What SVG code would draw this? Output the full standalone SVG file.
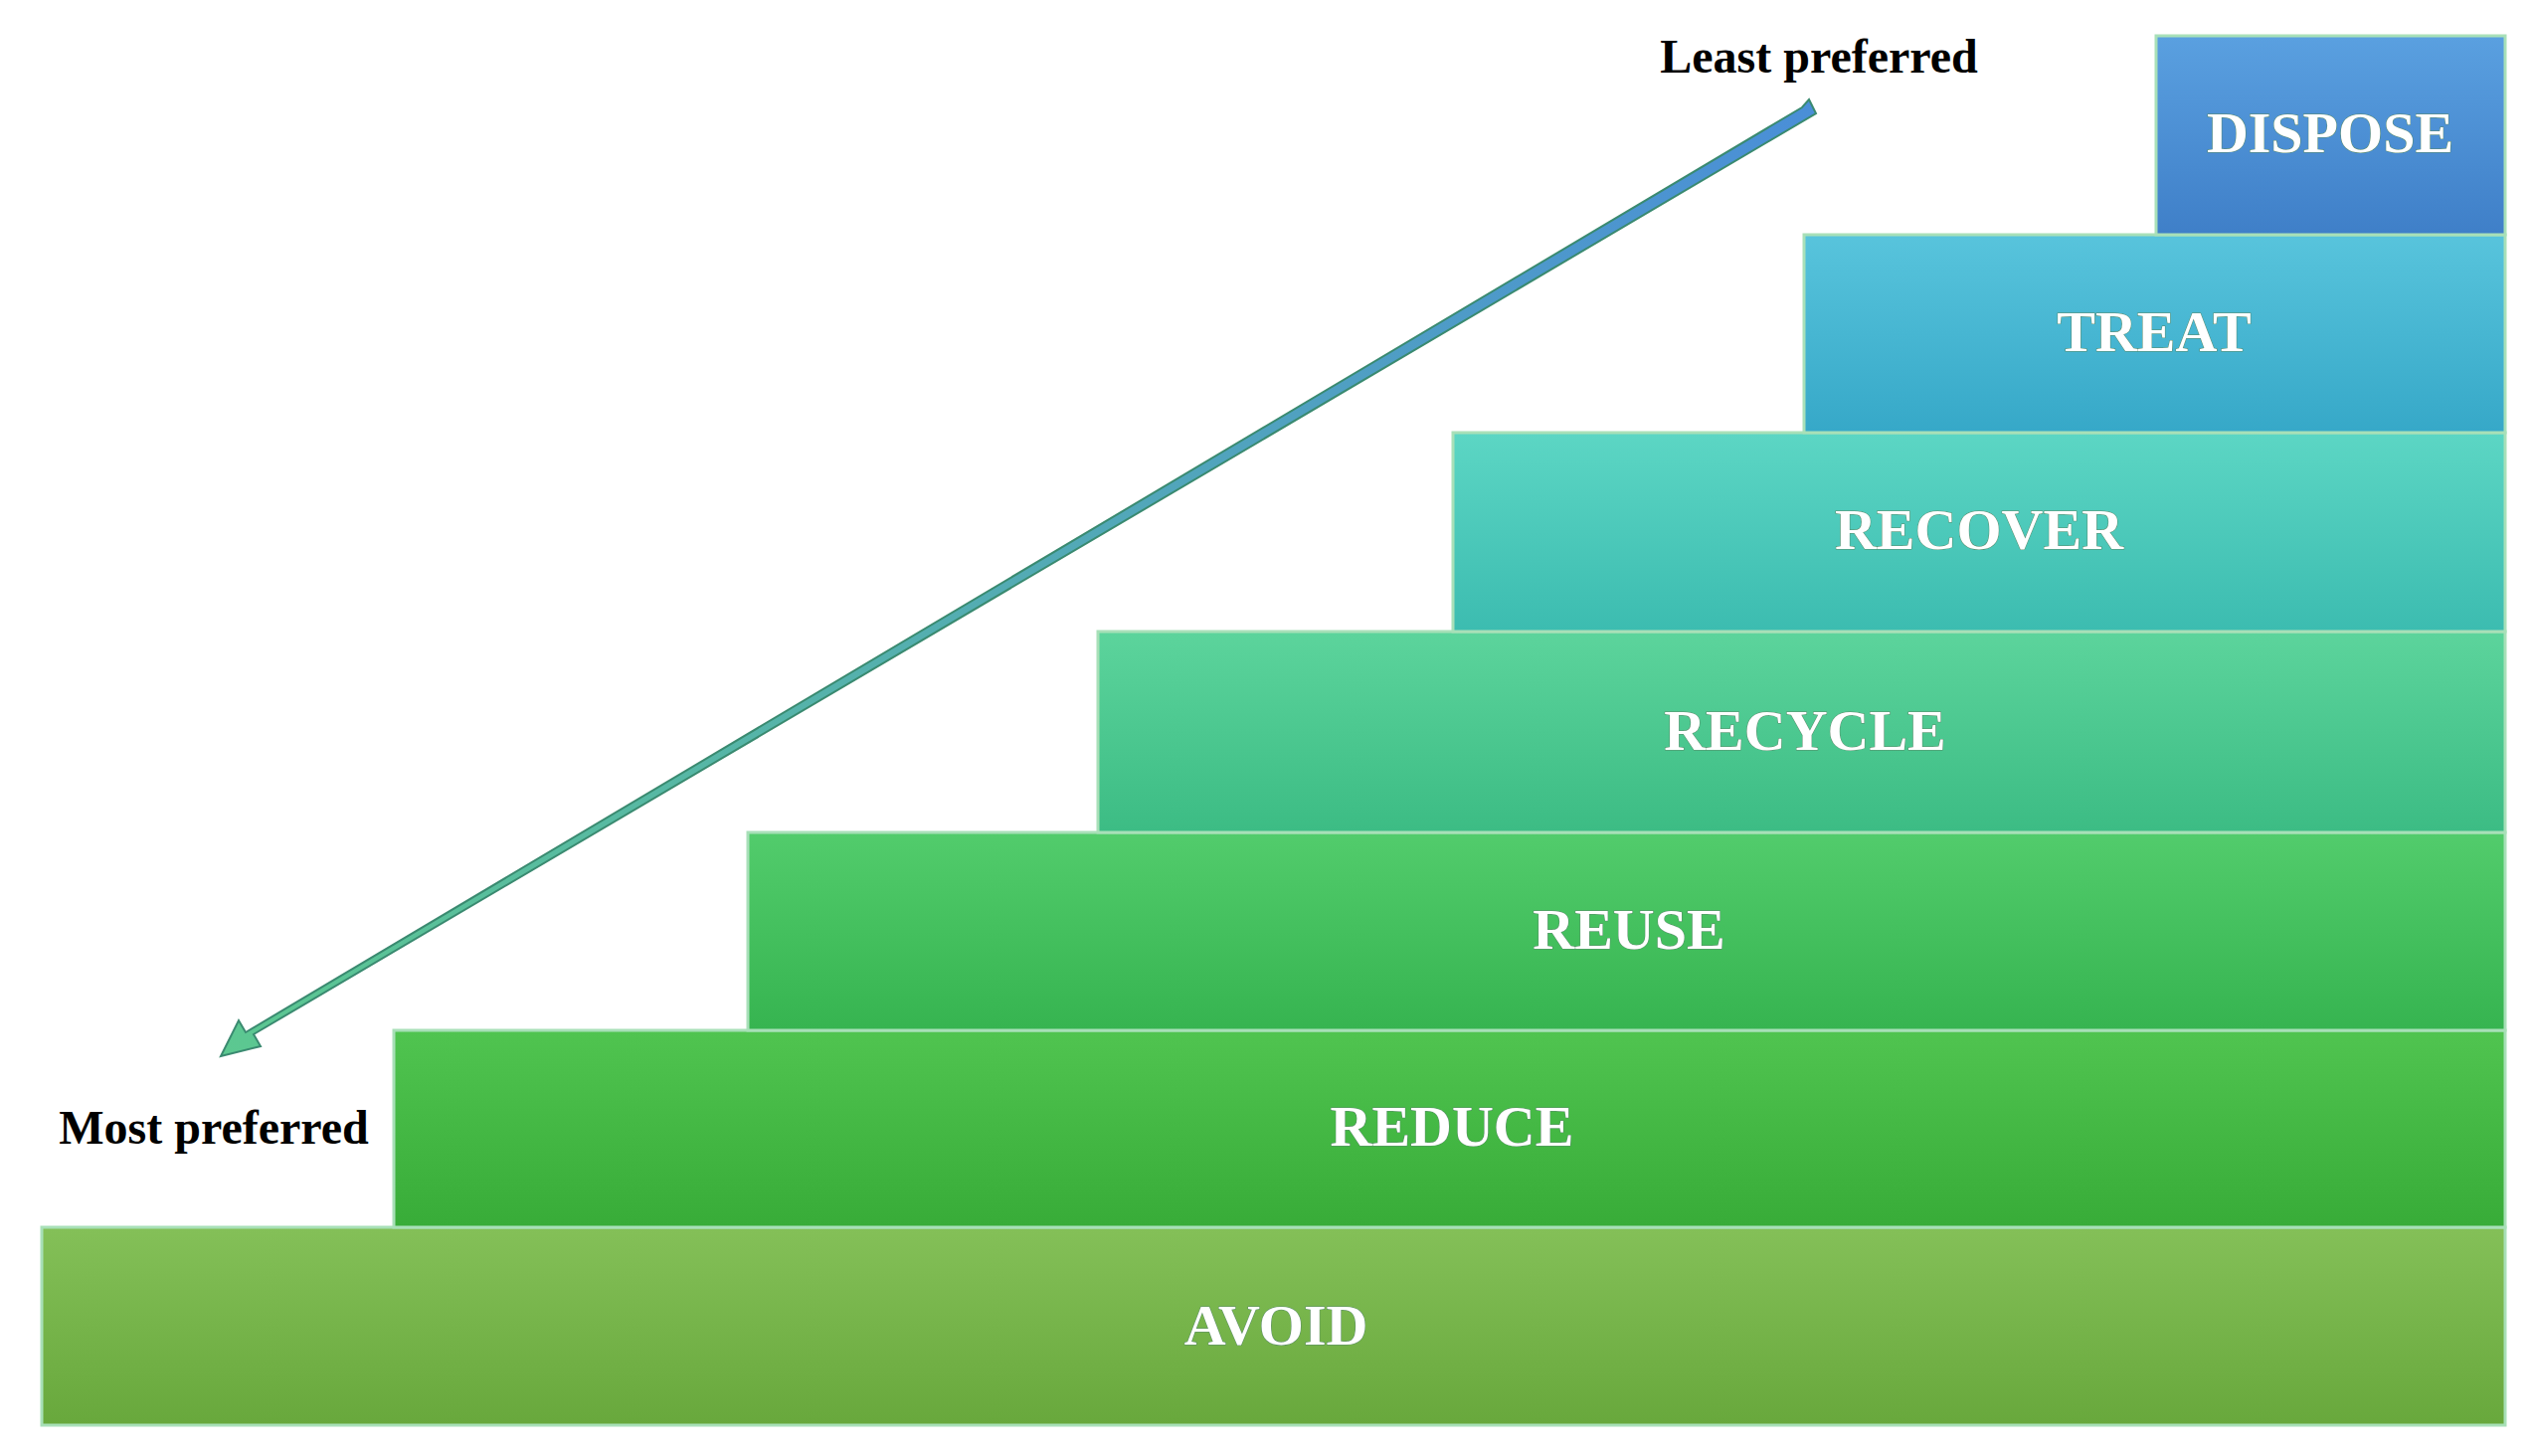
<svg xmlns="http://www.w3.org/2000/svg" width="2547" height="1464" viewBox="0 0 2547 1464">
<style>
.lbl{font-family:"Liberation Serif",serif;font-weight:bold;font-size:58px;fill:#fff;text-anchor:middle;stroke:#5a8a6a;stroke-width:1;paint-order:stroke}
.cap{font-family:"Liberation Serif",serif;font-weight:bold;font-size:48px;fill:#000;text-anchor:middle}
.step{stroke:#a8e0b8;stroke-width:3}
</style>
<defs>
<linearGradient id="gD" x1="0" y1="0" x2="0" y2="1"><stop offset="0" stop-color="#5aa0e0"/><stop offset="1" stop-color="#3f7fc8"/></linearGradient>
<linearGradient id="gT" x1="0" y1="0" x2="0" y2="1"><stop offset="0" stop-color="#58c4dc"/><stop offset="1" stop-color="#36a8c8"/></linearGradient>
<linearGradient id="gRc" x1="0" y1="0" x2="0" y2="1"><stop offset="0" stop-color="#5cd6c4"/><stop offset="1" stop-color="#3cbcb0"/></linearGradient>
<linearGradient id="gRy" x1="0" y1="0" x2="0" y2="1"><stop offset="0" stop-color="#5cd49c"/><stop offset="1" stop-color="#3cbc84"/></linearGradient>
<linearGradient id="gRu" x1="0" y1="0" x2="0" y2="1"><stop offset="0" stop-color="#52cc6c"/><stop offset="1" stop-color="#36b450"/></linearGradient>
<linearGradient id="gRd" x1="0" y1="0" x2="0" y2="1"><stop offset="0" stop-color="#50c450"/><stop offset="1" stop-color="#38ac38"/></linearGradient>
<linearGradient id="gA" x1="0" y1="0" x2="0" y2="1"><stop offset="0" stop-color="#84c058"/><stop offset="1" stop-color="#68a83c"/></linearGradient>
<linearGradient id="gArr" x1="1" y1="0" x2="0" y2="1"><stop offset="0" stop-color="#4a8ed8"/><stop offset="1" stop-color="#5cc890"/></linearGradient>
</defs>
<g id="avoid"><rect class="step" x="42" y="1234" width="2477" height="199" fill="url(#gA)"/><text class="lbl" x="1283" y="1352">AVOID</text></g>
<g id="reduce"><rect class="step" x="396" y="1036" width="2123" height="198" fill="url(#gRd)"/><text class="lbl" x="1460" y="1152">REDUCE</text></g>
<g id="reuse"><rect class="step" x="752" y="837" width="1767" height="199" fill="url(#gRu)"/><text class="lbl" x="1638" y="954">REUSE</text></g>
<g id="recycle"><rect class="step" x="1104" y="635" width="1415" height="202" fill="url(#gRy)"/><text class="lbl" x="1815" y="754">RECYCLE</text></g>
<g id="recover"><rect class="step" x="1461" y="435" width="1058" height="200" fill="url(#gRc)"/><text class="lbl" x="1990" y="552">RECOVER</text></g>
<g id="treat"><rect class="step" x="1814" y="236" width="705" height="199" fill="url(#gT)"/><text class="lbl" x="2166" y="353">TREAT</text></g>
<g id="dispose"><rect class="step" x="2168" y="36" width="351" height="200" fill="url(#gD)"/><text class="lbl" x="2343" y="153">DISPOSE</text></g>
<g id="connectors">
<polygon points="1819,100 1826,114 255,1040 262,1052 222,1062 240,1026 247,1038 1812,108" fill="url(#gArr)" stroke="#3a8a70" stroke-width="2"/>
</g>
<text class="cap" x="1829" y="73">Least preferred</text>
<text class="cap" x="215" y="1150">Most preferred</text>
</svg>
